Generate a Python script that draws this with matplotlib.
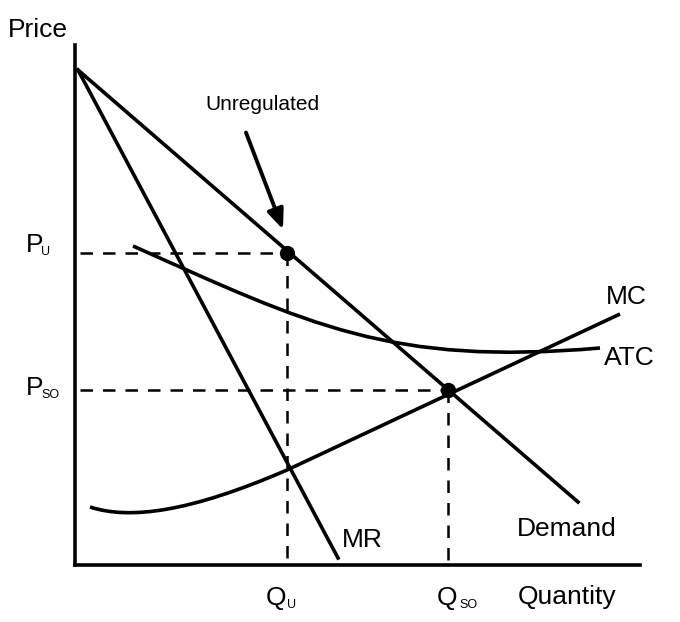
import matplotlib.pyplot as plt
import numpy as np
from matplotlib.path import Path
from matplotlib.patches import PathPatch

plt.rcParams["font.family"] = "Liberation Sans"

# diagram coordinates (pixel-like units, y grows downward)
demand = [(78, 70), (578, 502)]
mr = [(78, 70), (338, 558)]
mc_ctrl = [(90, 507), (130, 520), (190, 512), (287, 470), (620, 314)]
atc_ctrl = [(133, 246), (310, 325), (390, 366), (600, 348)]
p_unreg = (287, 253)
p_so = (448, 390)
axis_origin = (75, 565)

fig = plt.figure(figsize=(6.8, 6.22), dpi=100)
ax = fig.add_axes([0, 0, 1, 1])
ax.set_xlim(0, 680)
ax.set_ylim(622, 0)
ax.axis("off")

lw = 2.6
# axes
ax.plot([axis_origin[0], axis_origin[0]], [45, axis_origin[1]], "k-", lw=lw)
ax.plot([axis_origin[0], 640], [axis_origin[1], axis_origin[1]], "k-", lw=lw)

ax.plot(*zip(*demand), "k-", lw=lw)
ax.plot(*zip(*mr), "k-", lw=lw)

mc_path = Path(mc_ctrl, [Path.MOVETO, Path.CURVE4, Path.CURVE4, Path.CURVE4, Path.LINETO])
ax.add_patch(PathPatch(mc_path, fill=False, lw=lw, ec="k"))
atc_path = Path(atc_ctrl, [Path.MOVETO, Path.CURVE4, Path.CURVE4, Path.CURVE4])
ax.add_patch(PathPatch(atc_path, fill=False, lw=lw, ec="k"))

for px, py in (p_unreg, p_so):
    ax.plot([80, px], [py, py], "k--", lw=1.8, dashes=(5, 4))
    ax.plot([px, px], [py, 560], "k--", lw=1.8, dashes=(5, 4))
    ax.plot(px, py, "ko", ms=10)

ax.annotate("", xy=(284, 232), xytext=(245, 130),
            arrowprops=dict(arrowstyle="-|>,head_width=0.5,head_length=1.2", color="k", lw=2.8))

fs = 19
ax.text(8, 30, "Price", fontsize=fs, va="center")
ax.text(262, 104, "Unregulated", fontsize=15, ha="center", va="center")
ax.text(26, 245, "P", fontsize=fs, va="center")
ax.text(41, 252, "U", fontsize=9, va="center")
ax.text(26, 388, "P", fontsize=fs, va="center")
ax.text(41, 395, "SO", fontsize=9, va="center")
ax.text(606, 297, "MC", fontsize=fs, va="center")
ax.text(604, 358, "ATC", fontsize=fs, va="center")
ax.text(517, 529, "Demand", fontsize=fs, va="center")
ax.text(342, 540, "MR", fontsize=fs, va="center")
ax.text(266, 598, "Q", fontsize=fs, va="center")
ax.text(287, 605, "U", fontsize=9, va="center")
ax.text(437, 598, "Q", fontsize=fs, va="center")
ax.text(459, 605, "SO", fontsize=9, va="center")
ax.text(518, 597, "Quantity", fontsize=fs, va="center")

fig.savefig("out.png", dpi=100)
